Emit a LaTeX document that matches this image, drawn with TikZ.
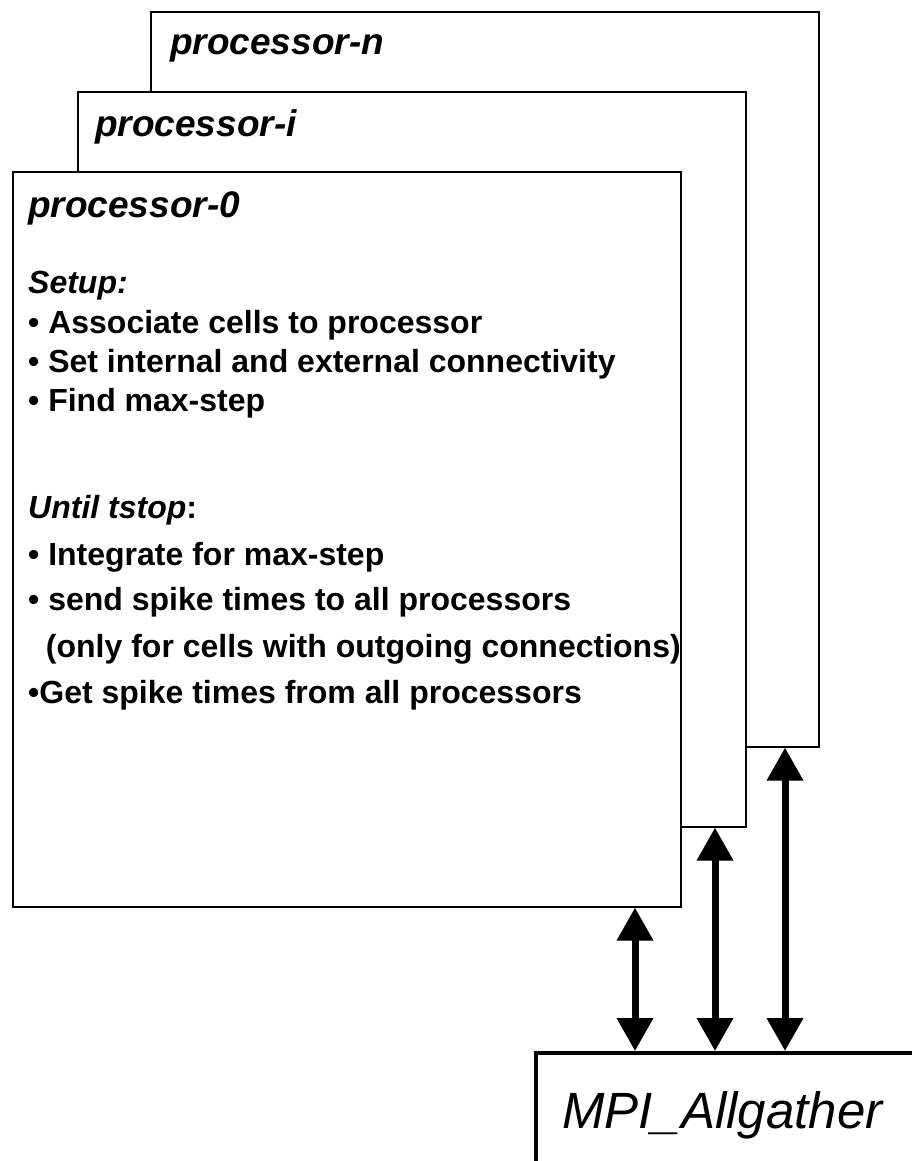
\documentclass[tikz,border=0pt]{standalone}
\usepackage{fontspec}
\setmainfont{Liberation Sans}
\usetikzlibrary{arrows.meta, positioning}

\begin{document}
\begin{tikzpicture}[
    x=1pt, y=-1pt,
    procbox/.style={rectangle, draw=black, fill=white, line width=1.6pt,
                    minimum width=668pt, minimum height=735pt,
                    anchor=north west, inner sep=0pt},
    proctitle/.style={anchor=base west, inner sep=0pt,
                      font=\fontsize{37}{44}\selectfont\bfseries\itshape},
    proctext/.style={anchor=base west, inner sep=0pt,
                     font=\fontsize{32}{38}\selectfont\bfseries},
    arrow/.style={{Triangle[length=33pt,width=35pt]}-{Triangle[length=33pt,width=35pt]},
                  line width=7pt},
]
\useasboundingbox (0,0) rectangle (912,1161);

% Processor stack (back to front)
\node[procbox] (pn) at (150,11) {};
\node[proctitle] at ([xshift=20pt,yshift=-44pt]pn.north west) {processor-n};

\node[procbox] (pi) at (77,91) {};
\node[proctitle] at ([xshift=18pt,yshift=-46pt]pi.north west) {processor-i};

\node[procbox] (p0) at (12,171) {};
\node[proctitle] at ([xshift=16pt,yshift=-46pt]p0.north west) {processor-0};

% Setup block
\node[proctext] (setup) at ([xshift=16pt,yshift=-122pt]p0.north west) {\itshape Setup:};
\node[proctext] at ([xshift=16pt,yshift=-162pt]p0.north west) {• Associate cells to processor};
\node[proctext] at ([xshift=16pt,yshift=-201pt]p0.north west) {• Set internal and external connectivity};
\node[proctext] at ([xshift=16pt,yshift=-240pt]p0.north west) {• Find max-step};

% Main loop block
\node[proctext] (until) at ([xshift=16pt,yshift=-347pt]p0.north west) {{\itshape Until tstop}:};
\node[proctext] at ([xshift=16pt,yshift=-394pt]p0.north west) {• Integrate for max-step};
\node[proctext] at ([xshift=16pt,yshift=-439pt]p0.north west) {• send spike times to all processors};
\node[proctext] at ([xshift=16pt,yshift=-486pt]p0.north west) {\ \ (only for cells with outgoing connections)};
\node[proctext] at ([xshift=16pt,yshift=-532pt]p0.north west) {•Get spike times from all processors};

% MPI box
\node[rectangle, draw=black, line width=4pt, anchor=north west, inner sep=0pt,
      minimum width=450pt, minimum height=200pt] (mpi) at (534,1051) {};
\node[anchor=base west, inner sep=0pt, font=\fontsize{51}{60}\selectfont\itshape]
      (mpilabel) at ([xshift=28pt,yshift=-77pt]mpi.north west) {MPI\_Allgather};

% Exchange arrows
\coordinate (a0) at (635,0);
\coordinate (ai) at (715,0);
\coordinate (an) at (785,0);
\draw[arrow] (a0 |- p0.south) -- (a0 |- mpi.north);
\draw[arrow] (ai |- pi.south) -- (ai |- mpi.north);
\draw[arrow] (an |- pn.south) -- (an |- mpi.north);

\end{tikzpicture}
\end{document}
